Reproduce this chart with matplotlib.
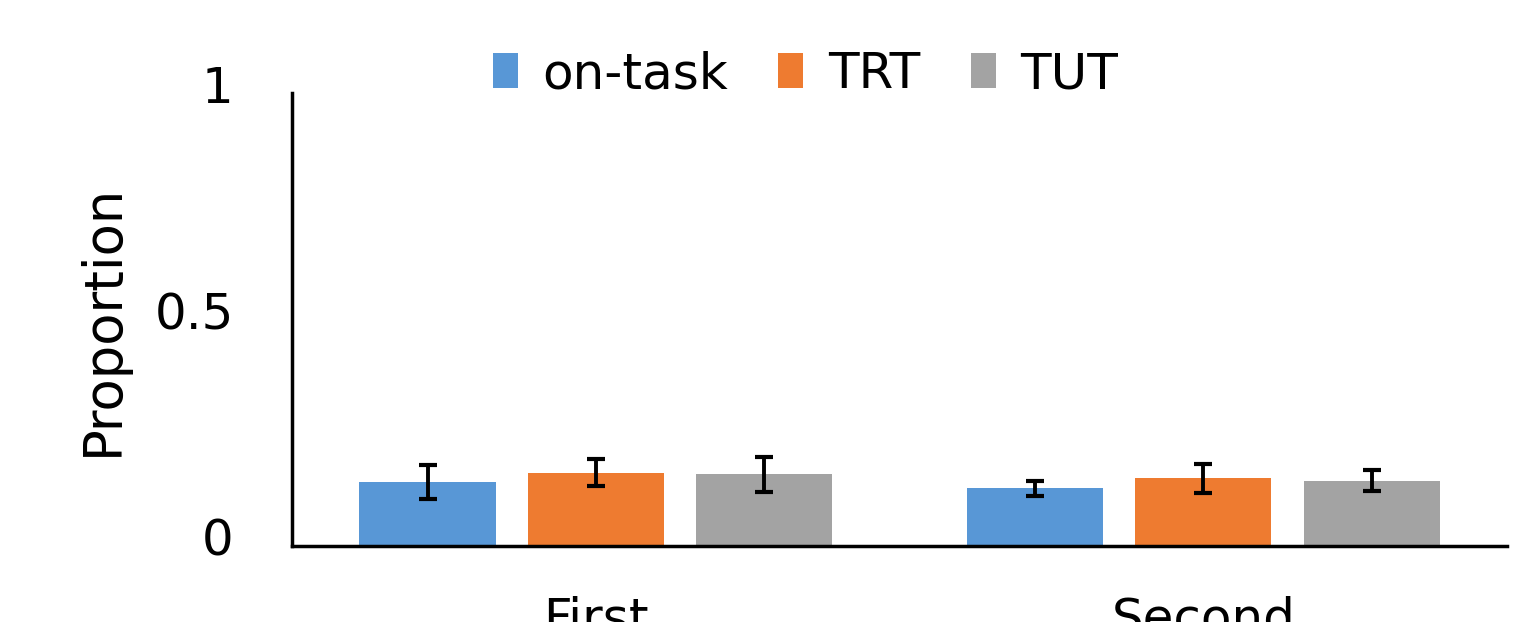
import numpy as np
import matplotlib.pyplot as plt
from matplotlib.transforms import ScaledTranslation

# data
groups = ['First', 'Second']
series = ['on-task', 'TRT', 'TUT']
on_task = [0.141, 0.127]
trt = [0.162, 0.149]
tut = [0.158, 0.144]
on_task_err = [0.037, 0.017]
trt_err = [0.030, 0.032]
tut_err = [0.039, 0.023]

colors = ['#5897d6', '#ee7b30', '#a3a3a3']
values = [on_task, trt, tut]
errors = [on_task_err, trt_err, tut_err]

fig = plt.figure(figsize=(15.14, 6.22), dpi=100)
ax = fig.add_axes([0.1929, 0.1222, 0.8025, 0.7283])

x = np.arange(len(groups))
width = 0.224
step = 0.277

for i, (name, vals, errs, col) in enumerate(zip(series, values, errors, colors)):
    ax.bar(x + (i - 1) * step, vals, width, color=col, label=name,
           yerr=errs, error_kw=dict(ecolor='black', elinewidth=2.8,
                                    capsize=6.5, capthick=3))

ax.set_xlim(-0.5, 1.5)
ax.set_ylim(0, 1)
ax.set_yticks([0, 0.5, 1])
ax.set_yticklabels(['0', '0.5', '1'])
ax.set_xticks(x)
ax.set_xticklabels(groups)
ax.tick_params(axis='both', length=0, labelsize=36)
ax.tick_params(axis='y', pad=42)
ax.tick_params(axis='x', pad=36)
ax.set_ylabel('Proportion', fontsize=38, labelpad=18)

# y tick labels sit a little above their gridline in the original
shift = ScaledTranslation(0, 0.09, fig.dpi_scale_trans)
for lab in ax.get_yticklabels():
    lab.set_transform(lab.get_transform() + shift)

for side in ['top', 'right']:
    ax.spines[side].set_visible(False)
for side in ['left', 'bottom']:
    ax.spines[side].set_linewidth(2.5)
    ax.spines[side].set_color('black')

fig.legend(loc='center', bbox_to_anchor=(0.532, 0.881), ncol=3, frameon=False,
           fontsize=36, handlelength=0.5, handleheight=0.68,
           handletextpad=0.5, columnspacing=1.0)

fig.savefig('out.png', dpi=100)
